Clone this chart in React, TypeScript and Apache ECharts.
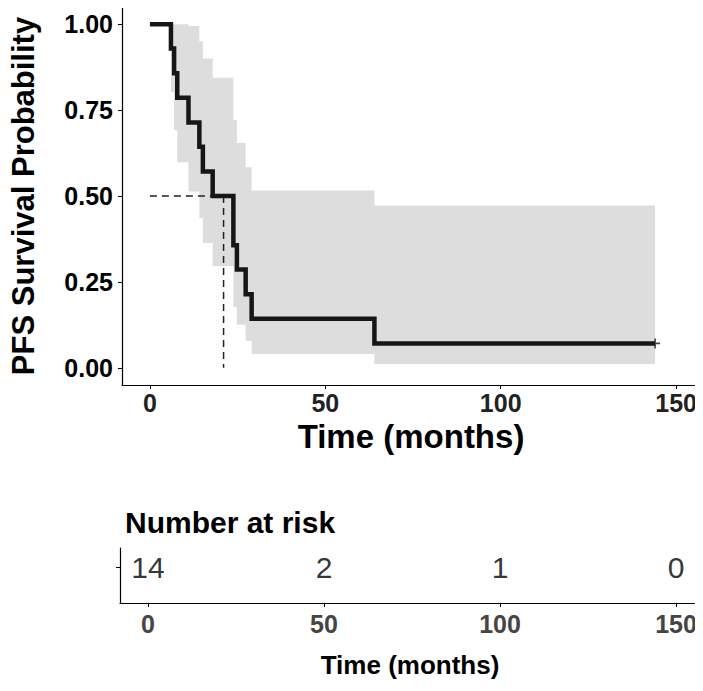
import React, { useEffect, useRef } from "react";
import * as echarts from "echarts";

// Kaplan-Meier step points (time in months, survival probability)
const times = [0, 6.0, 6.9, 7.8, 11.0, 14.1, 15.1, 17.9, 23.8, 24.8, 27.3, 29.0, 64.0, 144.0];
const survival = [1, 0.929, 0.857, 0.786, 0.714, 0.643, 0.571, 0.5, 0.357, 0.286, 0.214, 0.143, 0.071, 0.071];
// confidence band per interval [times[i], times[i+1]]
const upperCI = [1, 1, 1, 1, 0.995, 0.95, 0.9, 0.844, 0.721, 0.654, 0.584, 0.516, 0.472];
const lowerCI = [1, 0.803, 0.692, 0.598, 0.513, 0.435, 0.363, 0.296, 0.177, 0.125, 0.079, 0.04, 0.011];
const censorTimes = [144];
const censorSurv = [0.071];
const medianTime = 21;
const medianSurv = 0.5;

const yTicks = [0, 0.25, 0.5, 0.75, 1];
const xTicks = [0, 50, 100, 150];
const riskTimes = [0, 50, 100, 150];
const riskCounts = [14, 2, 1, 0];

const FONT = "'Liberation Sans', Arial, Helvetica, sans-serif";

export default function App() {
  const ref = useRef<HTMLDivElement>(null);
  useEffect(() => {
    if (!ref.current) return;
    const chart = echarts.init(ref.current, null, { renderer: "svg" });
    const xMin = -7.95;
    const xMax = 156.8;
    const lineData = times.map((t, i) => [t, survival[i]]);
    const riskY = 0.65;
    const axisLine = { show: true, onZero: false, lineStyle: { color: "#000", width: 1.2 } };
    const option: any = {
      animation: false,
      backgroundColor: "#ffffff",
      textStyle: { fontFamily: FONT },
      title: {
        text: "Number at risk",
        left: 120,
        top: 502,
        textStyle: { fontFamily: FONT, fontSize: 30, fontWeight: "bold", color: "#000" },
      },
      grid: [
        { left: 120, top: 7, width: 580, height: 378 },
        { left: 120, top: 548, width: 580, height: 55 },
      ],
      xAxis: [
        {
          gridIndex: 0,
          type: "value",
          min: xMin,
          max: xMax,
          splitLine: { show: false },
          axisLine,
          axisTick: { show: true, length: 4, customValues: xTicks, lineStyle: { color: "#000" } },
          axisLabel: {
            customValues: xTicks,
            fontFamily: FONT,
            fontSize: 25,
            fontWeight: "bold",
            color: "#222",
            margin: 5,
          },
          name: "Time (months)",
          nameLocation: "middle",
          nameGap: 34,
          nameTextStyle: { fontFamily: FONT, fontSize: 33, fontWeight: "bold", color: "#000" },
        },
        {
          gridIndex: 1,
          type: "value",
          min: xMin,
          max: xMax,
          splitLine: { show: false },
          axisLine,
          axisTick: { show: true, length: 4, customValues: xTicks, lineStyle: { color: "#000" } },
          axisLabel: {
            customValues: xTicks,
            fontFamily: FONT,
            fontSize: 25,
            fontWeight: "bold",
            color: "#444",
            margin: 8,
          },
          name: "Time (months)",
          nameLocation: "middle",
          nameGap: 49,
          nameTextStyle: { fontFamily: FONT, fontSize: 26, fontWeight: "bold", color: "#000" },
        },
      ],
      yAxis: [
        {
          gridIndex: 0,
          type: "value",
          min: -0.05,
          max: 1.05,
          splitLine: { show: false },
          axisLine,
          axisTick: { show: true, length: 4, customValues: yTicks, lineStyle: { color: "#000" } },
          axisLabel: {
            customValues: yTicks,
            formatter: (v: number) => v.toFixed(2),
            fontFamily: FONT,
            fontSize: 25,
            fontWeight: "bold",
            color: "#000",
            margin: 9,
          },
          name: "PFS Survival Probability",
          nameLocation: "middle",
          nameGap: 83,
          nameTextStyle: { fontFamily: FONT, fontSize: 31, fontWeight: "bold", color: "#000" },
        },
        {
          gridIndex: 1,
          type: "value",
          min: 0,
          max: 1,
          splitLine: { show: false },
          axisLine,
          axisTick: { show: true, length: 4, customValues: [riskY], lineStyle: { color: "#000" } },
          axisLabel: { show: false },
        },
      ],
      series: [
        {
          type: "custom",
          xAxisIndex: 0,
          yAxisIndex: 0,
          z: 1,
          silent: true,
          data: [[0, 0]],
          renderItem: (params: any, api: any) => {
            const top: number[][] = [];
            const bottom: number[][] = [];
            for (let i = 0; i < upperCI.length; i++) {
              top.push(api.coord([times[i], upperCI[i]]));
              top.push(api.coord([times[i + 1], upperCI[i]]));
              bottom.push(api.coord([times[i], lowerCI[i]]));
              bottom.push(api.coord([times[i + 1], lowerCI[i]]));
            }
            const points = top.concat(bottom.reverse());
            return {
              type: "polygon",
              shape: { points },
              style: { fill: "#dddddd", stroke: "none" },
            };
          },
        },
        {
          type: "line",
          xAxisIndex: 0,
          yAxisIndex: 0,
          data: [[0, medianSurv], [medianTime, medianSurv]],
          symbol: "none",
          z: 3,
          lineStyle: { color: "#222", width: 1.5, type: [7, 5] },
        },
        {
          type: "line",
          xAxisIndex: 0,
          yAxisIndex: 0,
          data: [[medianTime, medianSurv], [medianTime, 0]],
          symbol: "none",
          z: 3,
          lineStyle: { color: "#222", width: 1.5, type: [7, 5] },
        },
        {
          type: "line",
          xAxisIndex: 0,
          yAxisIndex: 0,
          data: lineData,
          step: "end",
          symbol: "none",
          z: 4,
          lineStyle: { color: "#161616", width: 4.5, cap: "butt", join: "miter" },
        },
        {
          type: "scatter",
          xAxisIndex: 0,
          yAxisIndex: 0,
          data: censorTimes.map((t, i) => [t, censorSurv[i]]),
          symbol: "path://M0,5 L10,5 M5,0 L5,10",
          symbolSize: 10,
          z: 5,
          itemStyle: { color: "none", borderColor: "#161616", borderWidth: 1.6 },
        },
        {
          type: "scatter",
          xAxisIndex: 1,
          yAxisIndex: 1,
          data: riskTimes.map((t, i) => [t, riskY, riskCounts[i]]),
          symbolSize: 0,
          label: {
            show: true,
            position: "inside",
            formatter: (p: any) => String(p.value[2]),
            fontFamily: FONT,
            fontSize: 30,
            color: "#000",
            textBorderWidth: 0,
          },
        },
      ],
    };
    chart.setOption(option);
    return () => chart.dispose();
  }, []);
  return <div ref={ref} style={{ width: 703, height: 691, margin: -8 }} />;
}
